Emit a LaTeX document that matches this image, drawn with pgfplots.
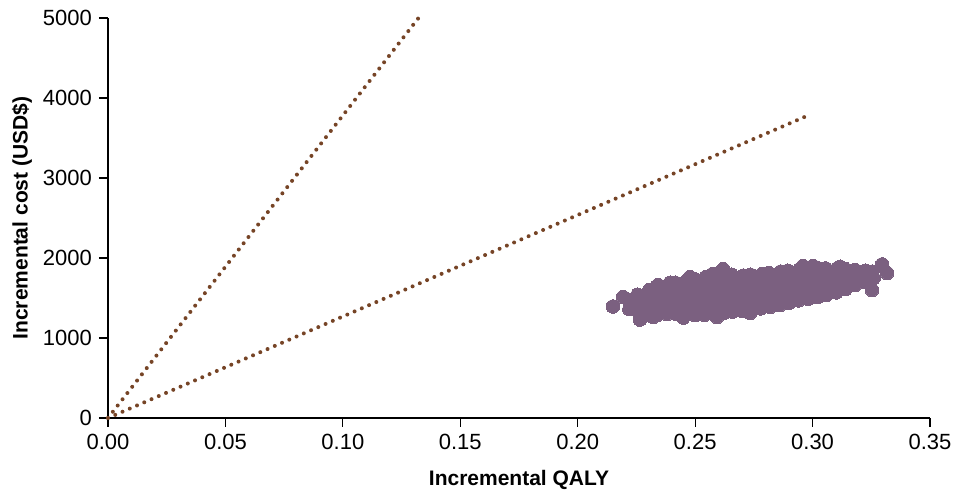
\documentclass[border=0pt]{standalone}
\usepackage{pgfplots}
\pgfplotsset{compat=1.18}
\usepackage{fontspec}
\setmainfont{Liberation Sans}
\definecolor{cloud}{RGB}{123,96,128}
\definecolor{wtp}{RGB}{118,68,38}
\begin{document}
\begin{tikzpicture}
\useasboundingbox (-54pt,-37pt) rectangle (422.5pt,209pt);
\begin{axis}[
  at={(0,0)}, anchor=south west,
  scale only axis, width=411pt, height=200pt,
  xmin=0, xmax=0.35, ymin=0, ymax=5000,
  axis x line*=bottom, axis y line*=left,
  axis line style={black, line width=0.6pt},
  tick align=outside, tick style={black, line width=0.6pt},
  major tick length=4.5pt,
  xtick={0,0.05,...,0.35}, ytick={0,1000,...,5000},
  /pgf/number format/assume math mode=true,
  xticklabel style={/pgf/number format/fixed, /pgf/number format/fixed zerofill, /pgf/number format/precision=2},
  yticklabel style={/pgf/number format/1000 sep={}},
  tick label style={font=\fontsize{11}{13}\selectfont},
  xlabel={Incremental QALY},
  ylabel={Incremental cost (USD\$)},
  label style={font=\fontsize{10.5}{12}\selectfont\bfseries},
  xlabel style={at={(axis description cs:0.5,-0.155)}, anchor=center},
  ylabel style={at={(axis description cs:-0.1046,0.5)}, anchor=center},
  clip=false,
]
\addplot[wtp, line width=2pt, line cap=round, dash pattern=on 0pt off 3.95pt] coordinates {(0,0) (0.1322,5000)};
\addplot[wtp, line width=2pt, line cap=round, dash pattern=on 0pt off 3.95pt] coordinates {(0,0) (0.2995,3800)};
\addplot[only marks, mark=*, mark size=3.4pt, mark options={fill=cloud, draw=cloud, line width=0pt}] coordinates {
(0.222,1360) (0.2225,1420) (0.2215,1480)
(0.226,1330) (0.2265,1430) (0.2255,1540)
(0.230,1300) (0.2305,1400) (0.2295,1500) (0.2305,1600)
(0.234,1290) (0.2335,1380) (0.2345,1470) (0.234,1560) (0.2335,1640)
(0.238,1300) (0.2385,1390) (0.2375,1480) (0.238,1570) (0.2385,1660)
(0.242,1300) (0.2415,1400) (0.2425,1500) (0.242,1600) (0.2415,1690)
(0.246,1290) (0.2465,1400) (0.2455,1510) (0.246,1620) (0.2465,1720)
(0.250,1285) (0.2495,1400) (0.2505,1510) (0.250,1630) (0.2495,1740)
(0.254,1290) (0.2545,1410) (0.2535,1530) (0.254,1650) (0.2545,1760)
(0.258,1300) (0.2575,1420) (0.2585,1550) (0.258,1680) (0.2575,1800)
(0.262,1310) (0.2625,1430) (0.2615,1560) (0.262,1680) (0.2625,1800)
(0.266,1330) (0.2655,1440) (0.2665,1560) (0.266,1680) (0.2655,1790)
(0.270,1340) (0.2705,1450) (0.2695,1560) (0.270,1670) (0.2705,1780)
(0.274,1350) (0.2735,1460) (0.2745,1570) (0.274,1680) (0.2735,1790)
(0.278,1370) (0.2785,1480) (0.2775,1590) (0.278,1700) (0.2785,1800)
(0.282,1390) (0.2815,1500) (0.2825,1600) (0.282,1710) (0.2815,1810)
(0.286,1410) (0.2865,1520) (0.2855,1620) (0.286,1730) (0.2865,1830)
(0.290,1440) (0.2895,1540) (0.2905,1640) (0.290,1740) (0.2895,1840)
(0.294,1470) (0.2945,1570) (0.2935,1670) (0.294,1760) (0.2945,1860)
(0.298,1490) (0.2975,1590) (0.2985,1690) (0.298,1780) (0.2975,1870)
(0.302,1510) (0.3025,1600) (0.3015,1700) (0.302,1790) (0.3025,1870)
(0.306,1540) (0.3055,1630) (0.3065,1720) (0.306,1800) (0.3055,1870)
(0.310,1570) (0.3105,1650) (0.3095,1730) (0.310,1800) (0.3105,1870)
(0.314,1610) (0.3135,1690) (0.3145,1770) (0.314,1860)
(0.318,1660) (0.3185,1730) (0.3175,1800) (0.318,1850)
(0.322,1700) (0.3215,1770) (0.3225,1840)
(0.326,1750) (0.3255,1830)
(0.2150,1394) (0.2193,1512) (0.2235,1450) (0.2265,1230) (0.2342,1662)
(0.2478,1762) (0.2619,1860) (0.2959,1900) (0.3002,1900) (0.3117,1890)
(0.3296,1920) (0.3317,1812) (0.3253,1600) (0.2449,1255) (0.2321,1262)
(0.2593,1262) (0.2734,1312) (0.2393,1690)
};
\end{axis}
\end{tikzpicture}
\end{document}
